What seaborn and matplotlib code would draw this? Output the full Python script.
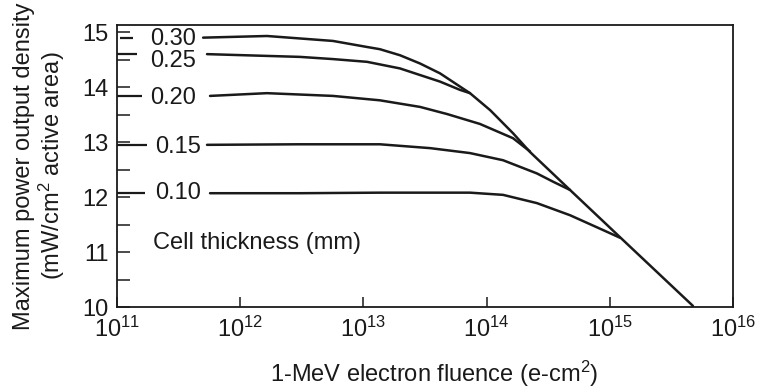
import matplotlib
matplotlib.use("Agg")
import matplotlib.pyplot as plt
import matplotlib.transforms as mtransforms
from matplotlib.ticker import FixedLocator, MultipleLocator, NullLocator
import pandas as pd
import seaborn as sns

# ---- data ----
thickness_labels = ["0.30", "0.25", "0.20", "0.15", "0.10"]

fluence_030 = [5.0e11, 1.65e12, 5.66e12, 1.07e13, 1.36e13, 1.98e13, 2.88e13, 4.19e13,
               6.08e13, 7.33e13, 1.07e14, 1.64e14, 2.25e14, 4.75e14, 1.21e15, 4.73e15]
power_030 = [14.90, 14.93, 14.84, 14.73, 14.69, 14.58, 14.43, 14.25,
             14.01, 13.89, 13.58, 13.16, 12.82, 12.13, 11.27, 10.02]

fluence_025 = [5.38e11, 3.05e12, 5.66e12, 1.07e13, 1.98e13, 2.88e13, 4.19e13, 6.08e13, 7.33e13]
power_025 = [14.60, 14.55, 14.51, 14.46, 14.34, 14.22, 14.10, 13.95, 13.89]

fluence_020 = [5.69e11, 1.65e12, 5.66e12, 1.36e13, 2.88e13, 4.78e13, 8.83e13, 1.64e14, 2.25e14]
power_020 = [13.84, 13.89, 13.84, 13.76, 13.64, 13.51, 13.33, 13.07, 12.83]

fluence_015 = [5.38e11, 3.05e12, 1.36e13, 3.48e13, 7.33e13, 1.36e14, 2.56e14, 3.46e14, 4.75e14]
power_015 = [12.95, 12.96, 12.96, 12.89, 12.80, 12.67, 12.43, 12.28, 12.13]

fluence_010 = [5.69e11, 3.05e12, 1.36e13, 7.33e13, 1.36e14, 2.56e14, 4.75e14, 8.81e14, 1.21e15]
power_010 = [12.07, 12.07, 12.08, 12.08, 12.04, 11.89, 11.67, 11.40, 11.26]

label_y = [14.87, 14.47, 13.80, 12.91, 12.07]

x_ticks = [1e11, 1e12, 1e13, 1e14, 1e15, 1e16]
x_tick_labels = [r"$\mathdefault{10^{11}}$", r"$\mathdefault{10^{12}}$", r"$\mathdefault{10^{13}}$",
                 r"$\mathdefault{10^{14}}$", r"$\mathdefault{10^{15}}$", r"$\mathdefault{10^{16}}$"]
y_ticks = [10, 11, 12, 13, 14, 15]

series = [(thickness_labels[0], fluence_030, power_030),
          (thickness_labels[1], fluence_025, power_025),
          (thickness_labels[2], fluence_020, power_020),
          (thickness_labels[3], fluence_015, power_015),
          (thickness_labels[4], fluence_010, power_010)]

df = pd.concat([pd.DataFrame({"thickness": lab, "fluence": fx, "power": py})
                for lab, fx, py in series], ignore_index=True)

# ---- style ----
sns.set_style("ticks")
plt.rcParams["font.family"] = ["Liberation Sans", "DejaVu Sans"]
plt.rcParams["mathtext.fontset"] = "custom"
plt.rcParams["mathtext.rm"] = "Liberation Sans"
plt.rcParams["mathtext.it"] = "Liberation Sans:italic"
ink = "#1a1a1a"
fs = 17

fig = plt.figure(figsize=(7.61, 3.90), dpi=100)
ax = fig.add_axes([117 / 761, 1 - 307 / 390, (733 - 117) / 761, (307 - 25) / 390])

sns.lineplot(data=df, x="fluence", y="power", hue="thickness",
             estimator=None, sort=False, palette=[ink] * 5, legend=False, linewidth=1.8, ax=ax)
for ln in ax.lines:
    ln.set_solid_joinstyle("round")

ax.set_xscale("log")
ax.set_xlim(1e11, 1e16)
ax.set_ylim(10, 15.13)

ax.xaxis.set_major_locator(FixedLocator(x_ticks))
ax.set_xticks(x_ticks)
ax.set_xticklabels(x_tick_labels)
ax.xaxis.set_minor_locator(NullLocator())
ax.set_yticks(y_ticks)
ax.yaxis.set_minor_locator(MultipleLocator(0.5))

ax.tick_params(axis="x", which="major", direction="in", length=7, width=1.1, color=ink,
               labelsize=fs, pad=7, labelcolor=ink)
ax.tick_params(axis="y", which="both", direction="in", length=9, width=1.1, color=ink,
               labelsize=fs, pad=6, labelcolor=ink)
for sp in ax.spines.values():
    sp.set_visible(True)
    sp.set_linewidth(1.3)
    sp.set_color(ink)

ax.set_xlabel(r"1-MeV electron fluence (e-cm$^{2}$)", fontsize=fs, color=ink)
ax.xaxis.set_label_coords(0.515, -0.185)
ax.set_ylabel("Maximum power output density\n" + r"(mW/cm$^{2}$ active area)",
              fontsize=fs, color=ink, linespacing=1.1)
ax.yaxis.set_label_coords(-0.081, 0.5)

# curve labels with leader lines from the axis
trans = mtransforms.blended_transform_factory(ax.transAxes, ax.transData)
text_x = [0.054, 0.054, 0.054, 0.062, 0.062]
leader_end = [0.026, 0.032, 0.041, 0.049, 0.045]
leader_start = [0.005, 0.0, 0.0, 0.0, 0.0]
for (lab, fx, py), tx, ty, ls, le in zip(series, text_x, label_y, leader_start, leader_end):
    ax.plot([ls, le], [py[0], py[0]], transform=trans, color=ink, lw=1.6, solid_capstyle="butt")
    ax.text(tx, ty, lab, transform=trans, fontsize=fs, color=ink, ha="left", va="center")

ax.text(0.058, 11.16, "Cell thickness (mm)", transform=trans, fontsize=fs, color=ink,
        ha="left", va="center")

fig.savefig("out.png", dpi=100, facecolor="white")
